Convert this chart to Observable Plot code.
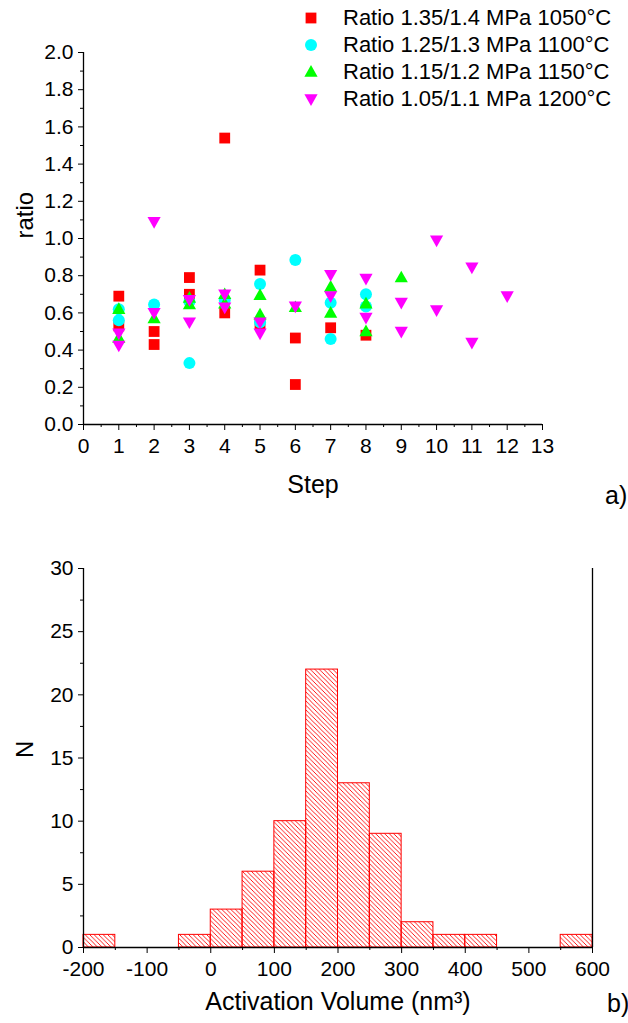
<!DOCTYPE html>
<html>
<head>
<meta charset="utf-8">
<script src="https://cdn.jsdelivr.net/npm/d3@7"></script>
<script src="https://cdn.jsdelivr.net/npm/@observablehq/plot@0.6"></script>
<style>
  body { margin: 0; background: #fff; font-family: "Liberation Sans", Arial, sans-serif; }
  #wrap { position: relative; width: 628px; height: 1023px; overflow: hidden; }
  .panel { position: absolute; left: 0; }
  .legend { position: absolute; left: 299px; top: 4px; font-size: 22px; line-height: 27px; color: #000; z-index: 2; }
  .row { display: flex; align-items: center; height: 27px; white-space: nowrap; }
  .row svg { width: 24px; height: 24px; margin-right: 20px; overflow: visible; }
  .tag { position: absolute; font-size: 25px; color: #000; }
</style>
</head>
<body>
<div id="wrap"></div>
<script>
// ---- panel a): ratio per step, one series per pressure pair / temperature ----
const seriesNames = [
  "Ratio 1.35/1.4 MPa 1050°C",
  "Ratio 1.25/1.3 MPa 1100°C",
  "Ratio 1.15/1.2 MPa 1150°C",
  "Ratio 1.05/1.1 MPa 1200°C"
];
const seriesColors = ["#ff0000", "#00ffff", "#00ff00", "#ff00ff"];

const redStep   = [1, 1, 2, 2, 3, 3, 4, 4, 5, 5, 6, 6, 7, 8];
const redRatio  = [0.69, 0.53, 0.50, 0.43, 0.79, 0.70, 1.54, 0.60, 0.83, 0.54, 0.465, 0.215, 0.52, 0.48];

const cyanStep  = [1, 1, 2, 3, 3, 4, 5, 5, 6, 7, 7, 8, 8];
const cyanRatio = [0.62, 0.56, 0.645, 0.66, 0.33, 0.67, 0.755, 0.55, 0.885, 0.655, 0.46, 0.70, 0.635];

const greenStep  = [1, 1, 2, 3, 3, 4, 4, 5, 5, 6, 7, 7, 8, 8, 9];
const greenRatio = [0.62, 0.465, 0.57, 0.645, 0.68, 0.70, 0.65, 0.695, 0.59, 0.63, 0.74, 0.60, 0.65, 0.50, 0.79];

const magStep  = [1, 1, 2, 2, 3, 3, 4, 4, 5, 5, 6, 7, 7, 8, 8, 9, 9, 10, 10, 11, 11, 12];
const magRatio = [0.49, 0.425, 1.09, 0.60, 0.67, 0.55, 0.70, 0.63, 0.55, 0.49, 0.635, 0.805, 0.69, 0.785, 0.575, 0.655, 0.50, 0.99, 0.615, 0.845, 0.44, 0.69];

const stepTicks  = [0, 1, 2, 3, 4, 5, 6, 7, 8, 9, 10, 11, 12, 13];
const ratioTicks = [0, 0.2, 0.4, 0.6, 0.8, 1.0, 1.2, 1.4, 1.6, 1.8, 2.0];

// ---- panel b): histogram of activation volume (bin lower edges and counts) ----
const binWidth = 50;
const binLow   = [-200, -150, -100, -50, 0, 50, 100, 150, 200, 250, 300, 350, 400, 450, 500, 550];
const binCount = [1, 0, 0, 1, 3, 6, 10, 22, 13, 9, 2, 1, 1, 0, 0, 1];
const volTicks = [-200, -100, 0, 100, 200, 300, 400, 500, 600];
const nTicks   = [0, 5, 10, 15, 20, 25, 30];

// ---- marker shapes (d3 symbol-type objects) ----
const rad = s => Math.sqrt(s / Math.PI);
const square = { draw(c, s) { const h = 0.9 * rad(s); c.rect(-h, -h, 2 * h, 2 * h); } };
const circle = { draw(c, s) { const r = rad(s); c.moveTo(r, 0); c.arc(0, 0, r, 0, 2 * Math.PI); } };
const triUp = { draw(c, s) { const r = rad(s); c.moveTo(0, -1.15 * r); c.lineTo(1.1 * r, 0.8 * r); c.lineTo(-1.1 * r, 0.8 * r); c.closePath(); } };
const triDown = { draw(c, s) { const r = rad(s); c.moveTo(0, 1.15 * r); c.lineTo(1.1 * r, -0.8 * r); c.lineTo(-1.1 * r, -0.8 * r); c.closePath(); } };
const shapes = [square, circle, triUp, triDown];

const font = "'Liberation Sans', Arial, sans-serif";
const R = 6;
const pairs = (xs, ys) => xs.map((x, i) => ({ step: x, ratio: ys[i] }));
const allSeries = [pairs(redStep, redRatio), pairs(cyanStep, cyanRatio), pairs(greenStep, greenRatio), pairs(magStep, magRatio)];

const wrap = document.getElementById("wrap");

const plotA = Plot.plot({
  width: 628, height: 530,
  marginLeft: 83, marginRight: 86, marginTop: 52, marginBottom: 106,
  style: { fontFamily: font, fontSize: "21px", color: "#000", background: "transparent", overflow: "visible" },
  x: { domain: [0, 13] },
  y: { domain: [0, 2] },
  marks: [
    Plot.axisX({ ticks: stepTicks, tickSize: 6, tickPadding: 8, tickFormat: d => String(d), label: null }),
    Plot.axisX({ ticks: d3.range(0.5, 13, 1), tickSize: 3, tickFormat: () => "", label: null }),
    Plot.axisY({ ticks: ratioTicks, tickSize: 5, tickPadding: 5, tickFormat: d3.format(".1f"), label: null }),
    Plot.axisY({ ticks: d3.range(0.1, 2, 0.2), tickSize: 3, tickFormat: () => "", label: null }),
    Plot.ruleX([0], { stroke: "#000", strokeWidth: 1.3 }),
    Plot.ruleY([0], { stroke: "#000", strokeWidth: 1.3 }),
    ...allSeries.map((data, i) => Plot.dot(data, { x: "step", y: "ratio", r: R, symbol: shapes[i], fill: seriesColors[i] })),
    Plot.text(["Step"], { frameAnchor: "bottom", dy: 68, fontSize: 25 }),
    Plot.text(["ratio"], { frameAnchor: "left", dx: -58, rotate: -90, fontSize: 24 })
  ]
});
plotA.classList.add("panel");
plotA.style.top = "0px";
wrap.appendChild(plotA);

const bins = binLow.map((lo, i) => ({ lo, hi: lo + binWidth, n: binCount[i] })).filter(d => d.n > 0);

const plotB = Plot.plot({
  width: 628, height: 493,
  marginLeft: 83, marginRight: 36, marginTop: 38, marginBottom: 76,
  style: { fontFamily: font, fontSize: "21px", color: "#000", background: "transparent", overflow: "visible" },
  x: { domain: [-200, 600] },
  y: { domain: [0, 30] },
  marks: [
    Plot.rect(bins, { x1: "lo", x2: "hi", y1: 0, y2: "n", fill: "url(#hatch)", stroke: "#ff0000", strokeWidth: 1 }),
    Plot.axisX({ ticks: volTicks, tickSize: 6, tickPadding: 8, tickFormat: d => String(d), label: null }),
    Plot.axisX({ ticks: d3.range(-150, 600, 100), tickSize: 3, tickFormat: () => "", label: null }),
    Plot.axisY({ ticks: nTicks, tickSize: 5, tickPadding: 5, tickFormat: d => String(d), label: null }),
    Plot.axisY({ ticks: d3.range(2.5, 30, 5), tickSize: 3, tickFormat: () => "", label: null }),
    Plot.ruleX([-200], { stroke: "#000", strokeWidth: 1.3 }),
    Plot.ruleX([600], { stroke: "#000", strokeWidth: 1.3 }),
    Plot.ruleY([0], { stroke: "#000", strokeWidth: 1.3 }),
    Plot.text(["Activation Volume (nm³)"], { frameAnchor: "bottom", dy: 62, fontSize: 25 }),
    Plot.text(["N"], { frameAnchor: "left", dx: -58, rotate: -90, fontSize: 24 })
  ]
});
// diagonal hatch used by the histogram bars
const defs = d3.select(plotB).insert("defs", ":first-child");
const pat = defs.append("pattern").attr("id", "hatch").attr("patternUnits", "userSpaceOnUse").attr("width", 4.5).attr("height", 4.5);
pat.append("path").attr("d", "M0,0L4.5,4.5M-1,3.5L1,5.5M3.5,-1L5.5,1").attr("stroke", "#ff0000").attr("stroke-width", 0.9).attr("fill", "none");
plotB.classList.add("panel");
plotB.style.top = "530px";
wrap.appendChild(plotB);

// legend for panel a)
const legend = document.createElement("div");
legend.className = "legend";
seriesNames.forEach((name, i) => {
  const row = document.createElement("div");
  row.className = "row";
  const svg = d3.create("svg");
  svg.append("path").attr("transform", "translate(12,12)").attr("d", d3.symbol(shapes[i], R * R * Math.PI)()).attr("fill", seriesColors[i]);
  row.appendChild(svg.node());
  const span = document.createElement("span");
  span.textContent = name;
  row.appendChild(span);
  legend.appendChild(row);
});
wrap.appendChild(legend);

// panel tags
[["a)", 605, 481], ["b)", 607, 989]].forEach(([t, x, y]) => {
  const d = document.createElement("div");
  d.className = "tag";
  d.textContent = t;
  d.style.left = x + "px";
  d.style.top = y + "px";
  wrap.appendChild(d);
});
</script>
</body>
</html>
